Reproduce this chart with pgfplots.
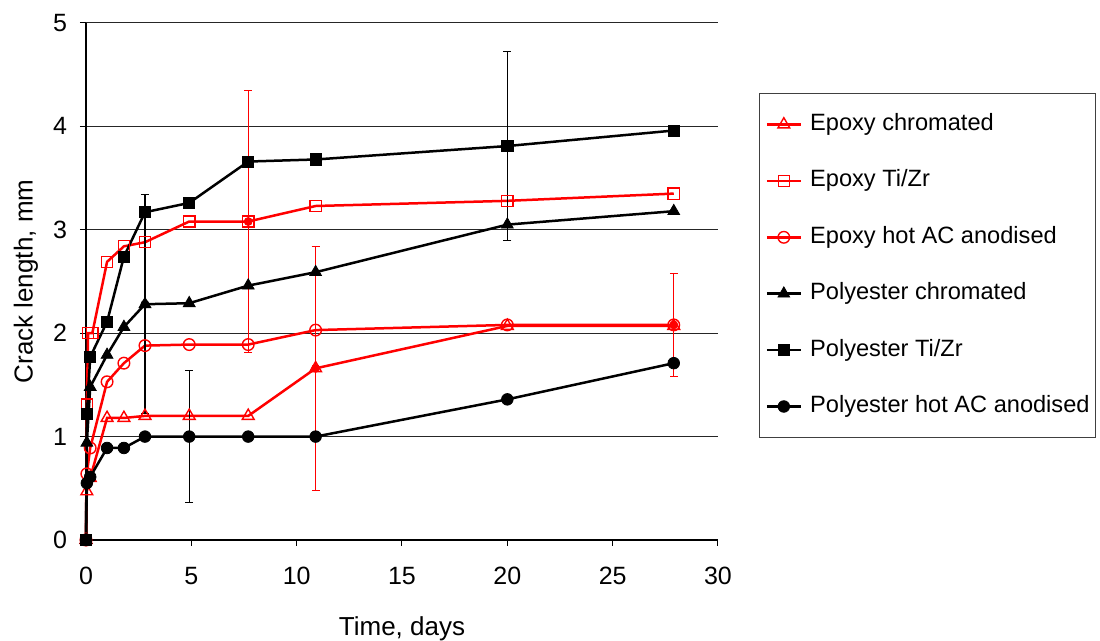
\documentclass[border=0pt]{standalone}
\usepackage{pgfplots}
\pgfplotsset{compat=1.18}
\usepackage{fontspec}
\setmainfont{Liberation Sans}
\begin{document}
\begin{tikzpicture}
\useasboundingbox (-43pt,-50.5pt) rectangle (507pt,270pt);
\begin{axis}[
  scale only axis,
  width=316pt, height=258.5pt,
  at={(0,0)}, anchor=south west,
  xmin=0, xmax=30, ymin=0, ymax=5,
  xtick={0,5,...,30}, ytick={0,1,...,5},
  axis x line*=bottom, axis y line*=left,
  axis line style={black, line width=0.6pt},
  tick align=outside, major tick length=3pt,
  tick style={black, line width=0.5pt},
  ymajorgrids, grid style={black!85, line width=0.5pt},
  clip=false,
  /pgf/number format/assume math mode=true,
  ticklabel style={font=\fontsize{12.5}{14}\selectfont},
  xticklabel style={yshift=-7pt},
  yticklabel style={xshift=-3pt},
  label style={font=\fontsize{13}{15}\selectfont},
  xlabel={Time, days},
  ylabel={Crack length, mm},
  xlabel style={at={(axis description cs:0.5,-0.172)}, anchor=center},
  ylabel style={at={(axis description cs:-0.095,0.5)}, anchor=center},
  legend cell align=left,
  legend style={at={(1.0649,0.8646)}, anchor=north west,
    draw=black!75, line width=0.5pt,
    font=\fontsize{11.8}{14}\selectfont,
    row sep=16.2pt, column sep=4pt, inner xsep=3pt, inner ysep=9.5pt,
    nodes={inner sep=0pt, text height=9pt, text depth=3pt}},
]
\addplot[red, line width=1.25pt, mark=triangle, mark size=3.4pt, mark options={line width=0.7pt}] coordinates {
(0,0) (0.04,0.47) (0.2,0.6) (1,1.18) (1.8,1.18) (2.8,1.2) (4.9,1.2) (7.7,1.2) (10.9,1.66) (20,2.07) (27.9,2.07)};
\addlegendentry{Epoxy chromated}
\addplot[red, line width=1.25pt, mark=square, mark size=2.8pt, mark options={line width=0.7pt}] coordinates {
(0,0) (0.04,1.31) (0.1,2.0) (0.3,2.0) (1,2.69) (1.8,2.84) (2.8,2.88) (4.9,3.08) (7.7,3.08) (10.9,3.23) (20,3.28) (27.9,3.35)};
\addlegendentry{Epoxy Ti/Zr}
\addplot[red, line width=1.25pt, mark=o, mark size=2.9pt, mark options={line width=0.7pt}] coordinates {
(0,0) (0.04,0.64) (0.2,0.89) (1,1.53) (1.8,1.71) (2.8,1.88) (4.9,1.89) (7.7,1.89) (10.9,2.03) (20,2.08) (27.9,2.08)};
\addlegendentry{Epoxy hot AC anodised}
\addplot[black, line width=1.25pt, mark=triangle*, mark size=3.4pt, mark options={line width=0.4pt}] coordinates {
(0,0) (0.04,0.94) (0.2,1.48) (1,1.79) (1.8,2.06) (2.8,2.28) (4.9,2.29) (7.7,2.46) (10.9,2.59) (20,3.05) (27.9,3.18)};
\addlegendentry{Polyester chromated}
\addplot[black, line width=1.25pt, mark=square*, mark size=2.8pt, mark options={line width=0.4pt}] coordinates {
(0,0) (0.04,1.22) (0.2,1.77) (1,2.11) (1.8,2.74) (2.8,3.17) (4.9,3.26) (7.7,3.66) (10.9,3.68) (20,3.81) (27.9,3.96)};
\addlegendentry{Polyester Ti/Zr}
\addplot[black, line width=1.25pt, mark=*, mark size=2.9pt, mark options={line width=0.4pt}] coordinates {
(0,0) (0.04,0.55) (0.2,0.61) (1,0.89) (1.8,0.89) (2.8,1.0) (4.9,1.0) (7.7,1.0) (10.9,1.0) (20,1.36) (27.9,1.71)};
\addlegendentry{Polyester hot AC anodised}
% error bars
\addplot[black, only marks, mark=none, forget plot,
  error bars/.cd, y dir=both, y explicit,
  error bar style={black, line width=0.55pt},
  error mark options={black, mark size=2pt, line width=0.55pt, rotate=90}]
coordinates {(2.8,2.28) +- (0,1.06) (4.9,1.0) +- (0,0.64) (20,3.81) +- (0,0.91)};
\addplot[red, only marks, mark=none, forget plot,
  error bars/.cd, y dir=both, y explicit,
  error bar style={red, line width=0.55pt},
  error mark options={red, mark size=2pt, line width=0.55pt, rotate=90}]
coordinates {(7.7,3.08) +- (0,1.27) (10.9,1.66) +- (0,1.18) (27.9,2.08) +- (0,0.5)};
\end{axis}
\end{tikzpicture}
\end{document}
